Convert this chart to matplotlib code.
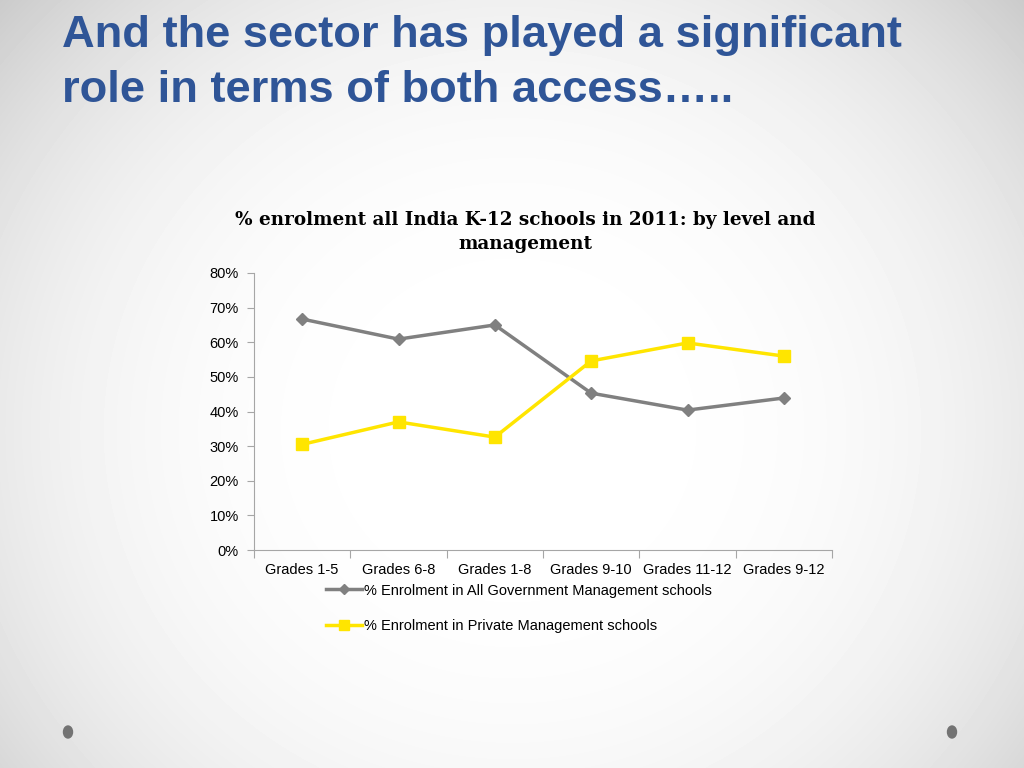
import numpy as np
import matplotlib.pyplot as plt
from matplotlib.patches import Ellipse

grades = ["Grades 1-5", "Grades 6-8", "Grades 1-8", "Grades 9-10", "Grades 11-12", "Grades 9-12"]
govt = [66.7, 60.9, 65.0, 45.3, 40.4, 43.9]
private = [30.5, 37.0, 32.6, 54.6, 59.8, 56.0]
govt_label = "% Enrolment in All Government Management schools"
private_label = "% Enrolment in Private Management schools"

plt.rcParams['font.family'] = ['Liberation Sans', 'DejaVu Sans']

fig = plt.figure(figsize=(10.24, 7.68), dpi=100)

# slide background: radial gradient, white centre, grey edges
bg = fig.add_axes([0, 0, 1, 1])
yy, xx = np.mgrid[0:768, 0:1024]
r = np.sqrt(((xx - 512) / 620.0) ** 2 + ((yy - 430) / 580.0) ** 2)
shade = 1.0 - 0.15 * np.clip(r, 0, 1.4) ** 3
bg.imshow(shade, cmap='gray', vmin=0, vmax=1, extent=[0, 1024, 768, 0], aspect='auto')
bg.set_xlim(0, 1024)
bg.set_ylim(768, 0)
bg.axis('off')
for cx in (68, 952):
    bg.add_patch(Ellipse((cx, 732), 9, 12, color='#737373'))

fig.text(62 / 1024, 1 - 35 / 768, "And the sector has played a significant",
         fontweight='bold', fontsize=32.6, color='#2F5597', va='center')
fig.text(62 / 1024, 1 - 90 / 768, "role in terms of both access…..",
         fontweight='bold', fontsize=32.6, color='#2F5597', va='center')

fig.text(525 / 1024, 1 - 232 / 768,
         "% enrolment all India K-12 schools in 2011: by level and\nmanagement",
         family=['DejaVu Serif'], fontweight='bold', fontsize=13.2,
         ha='center', va='center', linespacing=1.4)

ax = fig.add_axes([254 / 1024, 218 / 768, 578 / 1024, 277 / 768])
ax.patch.set_alpha(0)
x = np.arange(len(grades))
ax.plot(x, govt, color='#808080', lw=2.5, marker='D', ms=6, label=govt_label)
ax.plot(x, private, color='#FFE500', lw=2.5, marker='s', ms=8, label=private_label)

ax.set_xlim(-0.5, len(grades) - 0.5)
ax.set_ylim(0, 80)
ax.set_yticks(range(0, 81, 10))
ax.set_yticklabels([f"{v}%" for v in range(0, 81, 10)])
ax.set_xticks(np.arange(-0.5, len(grades), 1))
ax.set_xticklabels([])
ax.set_xticks(x, minor=True)
ax.set_xticklabels(grades, minor=True)
ax.tick_params(axis='x', which='minor', length=0, pad=9, labelsize=10.5)
ax.tick_params(axis='x', which='major', length=6, color='#A6A6A6', direction='out')
ax.tick_params(axis='y', length=5, color='#A6A6A6', labelsize=10.5, pad=6)
for s in ('top', 'right'):
    ax.spines[s].set_visible(False)
for s in ('left', 'bottom'):
    ax.spines[s].set_color('#A6A6A6')

leg = ax.legend(loc='upper left', bbox_to_anchor=(66 / 578, -0.1), frameon=False,
                fontsize=10.5, handlelength=2.5, handletextpad=0.1, labelspacing=1.5,
                borderaxespad=0)
leg.legend_handles[0].set_markersize(5)
leg.legend_handles[1].set_markersize(7)

fig.savefig('out.png', dpi=100)
